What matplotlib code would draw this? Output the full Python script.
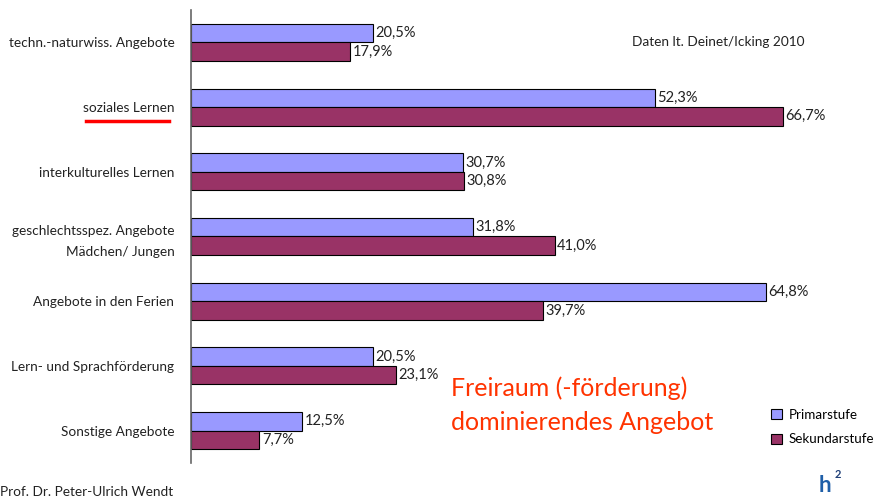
import numpy as np
import matplotlib
matplotlib.use("Agg")
import matplotlib.pyplot as plt
from matplotlib.patches import Patch

# Data
categories = [
    "techn.-naturwiss. Angebote",
    "soziales Lernen",
    "interkulturelles Lernen",
    "geschlechtsspez. Angebote\nMädchen/ Jungen",
    "Angebote in den Ferien",
    "Lern- und Sprachförderung",
    "Sonstige Angebote",
]
primarstufe = [20.5, 52.3, 30.7, 31.8, 64.8, 20.5, 12.5]
sekundarstufe = [17.9, 66.7, 30.8, 41.0, 39.7, 23.1, 7.7]
series_names = ["Primarstufe", "Sekundarstufe"]

plt.rcParams['font.family'] = ['Lato', 'DejaVu Sans']

fig = plt.figure(figsize=(8.8, 5.01), dpi=100)
ax = fig.add_axes([0.217, 0.076, 0.766, 0.904])

y = np.arange(len(categories))
h = 0.286
col_p = '#9999FF'
col_s = '#993366'

ax.barh(y - h / 2, primarstufe, height=h, color=col_p, edgecolor='black', linewidth=0.8)
ax.barh(y + h / 2, sekundarstufe, height=h, color=col_s, edgecolor='black', linewidth=0.8)

# value labels
for yi, v in zip(y, primarstufe):
    ax.text(v + 0.3, yi - h / 2, ("%.1f%%" % v).replace('.', ','), va='center', ha='left',
            fontsize=10.5, color='#222222')
for yi, v in zip(y, sekundarstufe):
    ax.text(v + 0.3, yi + h / 2, ("%.1f%%" % v).replace('.', ','), va='center', ha='left',
            fontsize=10.5, color='#222222')

ax.set_xlim(0, 76)
ax.set_ylim(6.5, -0.5)
ax.set_yticks(y)
ax.set_yticklabels(categories, fontsize=9.8, linespacing=1.9, color='#222222')
ax.tick_params(axis='y', length=0, pad=12)
ax.set_xticks([])
for s in ['top', 'right', 'bottom']:
    ax.spines[s].set_visible(False)
ax.spines['left'].set_color('#666666')
ax.spines['left'].set_linewidth(1.2)

# red underline under "soziales Lernen"
fig.add_artist(plt.Line2D([86 / 880, 169 / 880], [1 - 121 / 501, 1 - 121 / 501],
                          color='red', linewidth=2.5))

fig.text(632 / 880, 1 - 42 / 501, "Daten lt. Deinet/Icking 2010", fontsize=9.8,
         va='center', ha='left', color='#222222')

fig.text(451 / 880, 1 - 405 / 501, "Freiraum (-förderung)\ndominierendes Angebot",
         fontsize=18, color='#FF3300', va='center', ha='left', linespacing=1.55)

# legend
handles = [Patch(facecolor=col_p, edgecolor='black', linewidth=0.8),
           Patch(facecolor=col_s, edgecolor='black', linewidth=0.8)]
fig.legend(handles, series_names, loc='center left', bbox_to_anchor=(771 / 880, 1 - 427 / 501),
           frameon=False, fontsize=9.6, handlelength=0.8, handleheight=0.8,
           handletextpad=0.5, labelspacing=0.95, borderpad=0, borderaxespad=0)

fig.text(0.0, 1 - 492 / 501, "Prof. Dr. Peter-Ulrich Wendt", fontsize=9.8,
         va='center', ha='left', color='#222222')

# small logo text
fig.text(825 / 880, 1 - 485 / 501, "h", fontsize=16, fontweight='bold', color='#1f5fa8',
         va='center', ha='center')
fig.text(838 / 880, 1 - 475 / 501, "2", fontsize=8, fontweight='bold', color='#1f3f78',
         va='center', ha='center')

fig.savefig("out.png", dpi=100)
